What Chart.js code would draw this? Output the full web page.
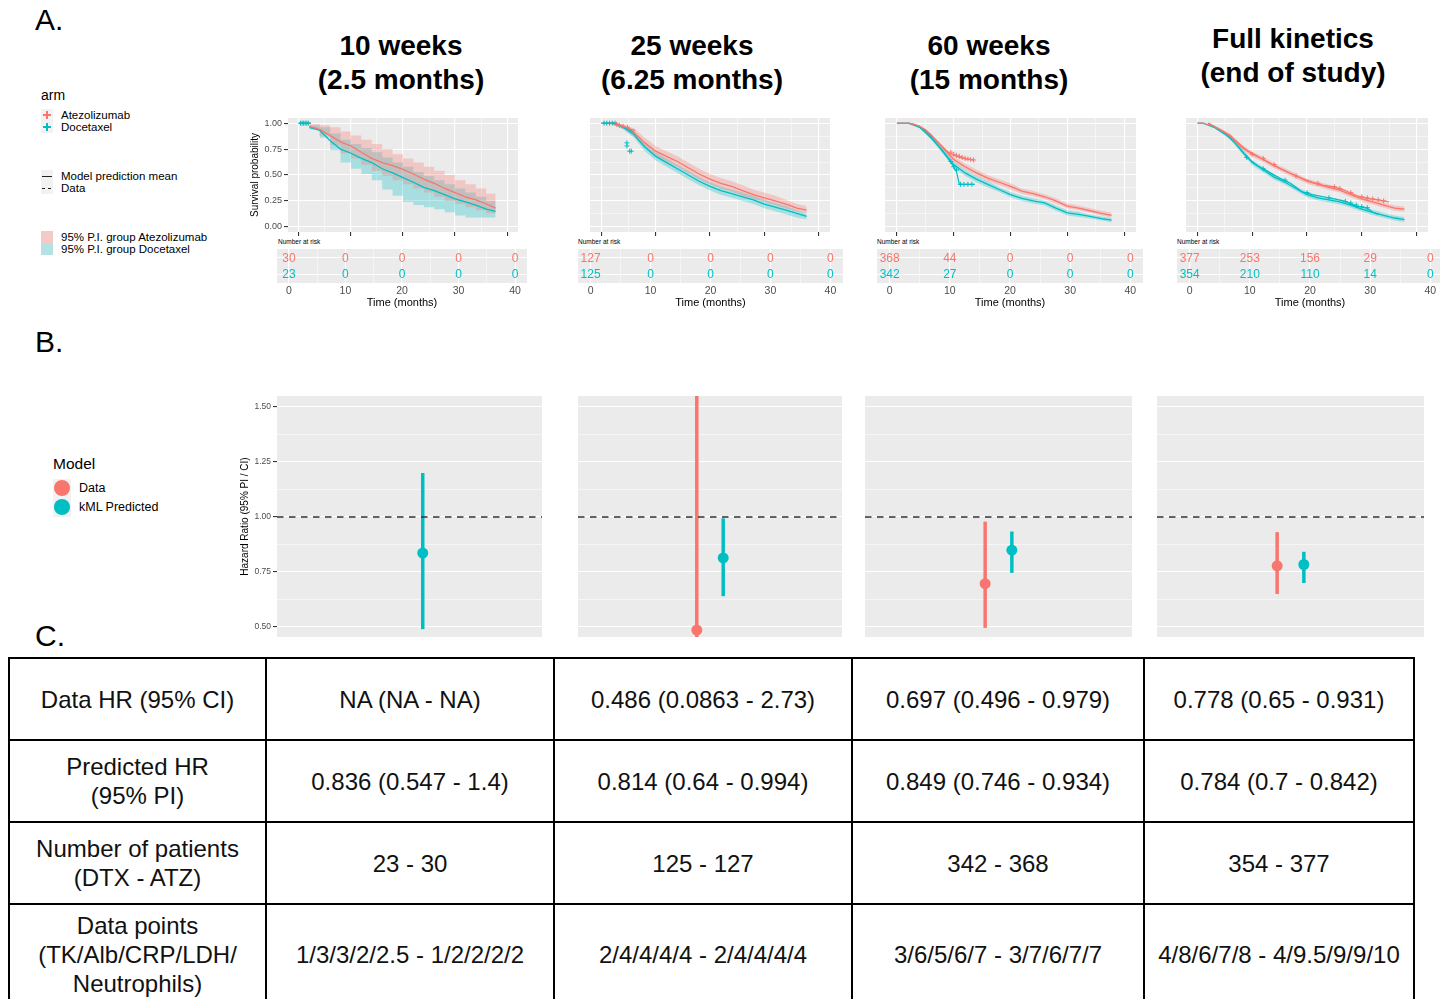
<!DOCTYPE html>
<html>
<head>
<meta charset="utf-8">
<script src="https://cdn.jsdelivr.net/npm/chart.js@4.4.1/dist/chart.umd.min.js"></script>
<style>
body{margin:0;width:1440px;height:999px;overflow:hidden;position:relative;background:#fff;font-family:'Liberation Sans',Arial,Helvetica,sans-serif;color:#000}
.abs{position:absolute;white-space:nowrap}
canvas{position:absolute}
.letter{font-size:30px;line-height:36px}
.title{font-size:28px;font-weight:bold;text-align:center;line-height:34px;width:320px}
.lg{font-size:11.5px;line-height:14px}
.key{position:absolute;width:12px;height:12px;background:#F2F2F2}
.nar{font-size:6.5px;line-height:8px;color:#000}
table{position:absolute;left:8px;top:657px;border-collapse:collapse;table-layout:fixed;font-size:24px;color:#111}
td{border:2.5px solid #000;text-align:center;vertical-align:middle;line-height:29px;padding:0}
</style>
</head>
<body>
<div class="abs letter" style="left:35px;top:2px">A.</div>
<div class="abs letter" style="left:35px;top:324px">B.</div>
<div class="abs letter" style="left:35px;top:618px">C.</div>

<div class="abs title" style="left:241px;top:29px">10 weeks<br>(2.5 months)</div>
<div class="abs title" style="left:532px;top:29px">25 weeks<br>(6.25 months)</div>
<div class="abs title" style="left:829px;top:29px">60 weeks<br>(15 months)</div>
<div class="abs title" style="left:1133px;top:22px">Full kinetics<br>(end of study)</div>

<!-- legend panel A -->
<div class="abs" style="left:41px;top:87px;font-size:14px">arm</div>
<div class="key" style="left:41px;top:109px"><div style="position:absolute;left:2px;top:5px;width:8px;height:1.5px;background:#F8766D"></div><div style="position:absolute;left:5.25px;top:2px;width:1.5px;height:8px;background:#F8766D"></div></div>
<div class="key" style="left:41px;top:121px"><div style="position:absolute;left:2px;top:5px;width:8px;height:1.5px;background:#00BFC4"></div><div style="position:absolute;left:5.25px;top:2px;width:1.5px;height:8px;background:#00BFC4"></div></div>
<div class="abs lg" style="left:61px;top:108px">Atezolizumab</div>
<div class="abs lg" style="left:61px;top:120px">Docetaxel</div>
<div class="key" style="left:41px;top:170px"><div style="position:absolute;left:1px;top:5.5px;width:10px;height:1px;background:#222"></div></div>
<div class="key" style="left:41px;top:182px"><div style="position:absolute;left:1px;top:5.5px;width:3px;height:1px;background:#222"></div><div style="position:absolute;left:7px;top:5.5px;width:3px;height:1px;background:#222"></div></div>
<div class="abs lg" style="left:61px;top:169px">Model prediction mean</div>
<div class="abs lg" style="left:61px;top:181px">Data</div>
<div class="key" style="left:41px;top:231px;background:#F3CAC7"></div>
<div class="key" style="left:41px;top:243px;background:#B6E1E3"></div>
<div class="abs lg" style="left:61px;top:230px">95% P.I. group Atezolizumab</div>
<div class="abs lg" style="left:61px;top:242px">95% P.I. group Docetaxel</div>

<!-- legend panel B -->
<div class="abs" style="left:53px;top:455px;font-size:15.5px">Model</div>
<div class="abs" style="left:53px;top:479px;width:18px;height:38px;background:#F2F2F2"></div>
<div class="abs" style="left:54px;top:480px;width:16px;height:16px;border-radius:8px;background:#F8766D"></div>
<div class="abs" style="left:54px;top:499px;width:16px;height:16px;border-radius:8px;background:#00BFC4"></div>
<div class="abs" style="left:79px;top:481px;font-size:12.5px">Data</div>
<div class="abs" style="left:79px;top:500px;font-size:12.5px">kML Predicted</div>

<div class="abs nar" style="left:278px;top:238px">Number at risk</div>
<div class="abs nar" style="left:578px;top:238px">Number at risk</div>
<div class="abs nar" style="left:877px;top:238px">Number at risk</div>
<div class="abs nar" style="left:1177px;top:238px">Number at risk</div>

<script>
// ---------- DATA ----------
// model prediction grid (months)
const modelTimes = [2, 4, 6, 8, 10, 12, 14, 16, 18, 20, 22, 24, 26, 28, 30, 32, 34, 36, 37.8];

// 10 weeks
const atzMean10 = [0.97, 0.94, 0.88, 0.82, 0.78, 0.72, 0.66, 0.62, 0.59, 0.555, 0.51, 0.46, 0.42, 0.37, 0.33, 0.29, 0.26, 0.22, 0.18];
const atzHi10   = [0.99, 0.98, 0.96, 0.92, 0.88, 0.84, 0.80, 0.75, 0.70, 0.66, 0.62, 0.58, 0.54, 0.50, 0.45, 0.41, 0.37, 0.32, 0.28];
const atzLo10   = [0.95, 0.88, 0.79, 0.71, 0.66, 0.60, 0.54, 0.49, 0.45, 0.41, 0.37, 0.33, 0.29, 0.25, 0.22, 0.19, 0.16, 0.13, 0.10];
const dtxMean10 = [0.96, 0.93, 0.83, 0.75, 0.71, 0.66, 0.62, 0.56, 0.52, 0.475, 0.43, 0.38, 0.35, 0.31, 0.27, 0.24, 0.21, 0.17, 0.15];
const dtxHi10   = [0.98, 0.96, 0.90, 0.84, 0.80, 0.76, 0.72, 0.67, 0.62, 0.58, 0.53, 0.49, 0.45, 0.41, 0.37, 0.33, 0.29, 0.25, 0.22];
const dtxLo10   = [0.94, 0.86, 0.74, 0.62, 0.56, 0.51, 0.45, 0.36, 0.30, 0.24, 0.21, 0.19, 0.17, 0.14, 0.11, 0.09, 0.09, 0.09, 0.09];
const obsT10 = [0, 2.3];
const obsAtz10 = [1, 1];
const obsDtx10 = [1, 1];
const censT10 = [0.3, 0.6, 0.9, 1.2, 1.5, 1.8];
const censDtx10 = [1, 1, 1, 1, 1, 1];

// 25 weeks
const atzMean25 = [1.0, 0.97, 0.91, 0.81, 0.73, 0.68, 0.63, 0.57, 0.51, 0.46, 0.42, 0.39, 0.35, 0.31, 0.28, 0.25, 0.22, 0.18, 0.16];
const atzHi25   = [1.0, 0.99, 0.95, 0.86, 0.78, 0.73, 0.68, 0.62, 0.56, 0.51, 0.47, 0.44, 0.40, 0.36, 0.33, 0.30, 0.26, 0.22, 0.20];
const atzLo25   = [0.99, 0.95, 0.87, 0.76, 0.68, 0.63, 0.58, 0.52, 0.46, 0.41, 0.37, 0.34, 0.30, 0.27, 0.24, 0.21, 0.18, 0.15, 0.13];
const dtxMean25 = [1.0, 0.96, 0.89, 0.77, 0.68, 0.62, 0.56, 0.50, 0.44, 0.39, 0.35, 0.32, 0.29, 0.26, 0.22, 0.19, 0.16, 0.13, 0.10];
const dtxHi25   = [1.0, 0.98, 0.92, 0.81, 0.72, 0.66, 0.60, 0.54, 0.48, 0.43, 0.39, 0.36, 0.33, 0.30, 0.26, 0.23, 0.20, 0.16, 0.13];
const dtxLo25   = [0.99, 0.94, 0.86, 0.73, 0.64, 0.58, 0.52, 0.46, 0.40, 0.35, 0.31, 0.28, 0.25, 0.22, 0.18, 0.15, 0.12, 0.09, 0.07];
const obsAtzT25 = [0, 2.5, 3.5, 4.5, 5.5, 6.2];
const obsAtz25  = [1, 1, 0.98, 0.96, 0.94, 0.93];
const obsDtxT25 = [0, 2.5, 3.5, 4.5, 5.5, 6.0];
const obsDtx25  = [1, 1, 0.97, 0.95, 0.93, 0.91];
const censAtzT25 = [2.8, 3.3, 4.0, 4.8];
const censAtz25  = [0.99, 0.98, 0.97, 0.96];
const censDtxT25 = [0.5, 1.0, 1.5, 2.0, 2.5, 4.7, 4.7, 5.2, 5.5];
const censDtx25  = [1, 1, 1, 1, 1, 0.81, 0.78, 0.73, 0.73];

// 60 weeks
const atzMean60 = [1.0, 0.97, 0.88, 0.77, 0.65, 0.58, 0.52, 0.47, 0.43, 0.39, 0.345, 0.32, 0.29, 0.25, 0.20, 0.18, 0.155, 0.13, 0.11];
const atzHi60   = [1.0, 0.98, 0.90, 0.79, 0.68, 0.61, 0.55, 0.50, 0.46, 0.42, 0.37, 0.345, 0.315, 0.275, 0.225, 0.205, 0.18, 0.155, 0.135];
const atzLo60   = [1.0, 0.96, 0.86, 0.75, 0.62, 0.55, 0.49, 0.44, 0.40, 0.36, 0.32, 0.295, 0.265, 0.225, 0.18, 0.16, 0.135, 0.11, 0.09];
const dtxMean60 = [1.0, 0.96, 0.86, 0.74, 0.60, 0.52, 0.46, 0.41, 0.36, 0.31, 0.275, 0.25, 0.23, 0.18, 0.135, 0.12, 0.10, 0.08, 0.065];
const dtxHi60   = [1.0, 0.97, 0.88, 0.77, 0.63, 0.55, 0.49, 0.44, 0.385, 0.335, 0.30, 0.275, 0.255, 0.205, 0.16, 0.145, 0.12, 0.10, 0.085];
const dtxLo60   = [1.0, 0.95, 0.84, 0.71, 0.57, 0.49, 0.43, 0.38, 0.335, 0.285, 0.25, 0.225, 0.205, 0.155, 0.11, 0.095, 0.08, 0.06, 0.045];
const obsAtzT60 = [0, 2, 3, 4, 5, 6, 7, 8, 9, 10, 11, 12, 13.5];
const obsAtz60  = [1, 1, 0.99, 0.97, 0.94, 0.89, 0.83, 0.77, 0.72, 0.69, 0.67, 0.655, 0.645];
const obsDtxT60 = [0, 2, 3, 4, 5, 6, 7, 8, 9, 10, 10.5, 11, 13.7];
const obsDtx60  = [1, 1, 0.99, 0.96, 0.93, 0.87, 0.80, 0.73, 0.66, 0.58, 0.53, 0.41, 0.41];
const censAtzT60 = [9.5, 10, 10.5, 11, 11.5, 12, 12.5, 13, 13.5];
const censAtz60  = [0.72, 0.70, 0.69, 0.68, 0.67, 0.66, 0.655, 0.65, 0.645];
const censDtxT60 = [9.5, 10, 10.5, 11.2, 11.8, 12.5, 13.2];
const censDtx60  = [0.63, 0.58, 0.55, 0.41, 0.41, 0.41, 0.41];

// full kinetics
const atzMeanF = [1.0, 0.94, 0.88, 0.77, 0.70, 0.65, 0.59, 0.54, 0.49, 0.44, 0.41, 0.38, 0.355, 0.31, 0.27, 0.24, 0.21, 0.18, 0.17];
const atzHiF   = [1.0, 0.955, 0.90, 0.795, 0.725, 0.675, 0.615, 0.565, 0.515, 0.465, 0.435, 0.405, 0.38, 0.335, 0.295, 0.265, 0.235, 0.205, 0.195];
const atzLoF   = [1.0, 0.925, 0.86, 0.745, 0.675, 0.625, 0.565, 0.515, 0.465, 0.415, 0.385, 0.355, 0.33, 0.285, 0.245, 0.215, 0.185, 0.155, 0.145];
const dtxMeanF = [1.0, 0.93, 0.86, 0.74, 0.62, 0.55, 0.48, 0.43, 0.37, 0.31, 0.28, 0.26, 0.24, 0.21, 0.17, 0.14, 0.11, 0.085, 0.07];
const dtxHiF   = [1.0, 0.945, 0.88, 0.765, 0.645, 0.575, 0.505, 0.455, 0.395, 0.335, 0.305, 0.285, 0.265, 0.235, 0.195, 0.165, 0.135, 0.11, 0.095];
const dtxLoF   = [1.0, 0.915, 0.84, 0.715, 0.595, 0.525, 0.455, 0.405, 0.345, 0.285, 0.255, 0.235, 0.215, 0.185, 0.145, 0.115, 0.085, 0.06, 0.045];
const obsAtzTF = [0, 1, 3, 5, 7, 9, 11, 13, 15, 17, 19, 21, 23, 25, 27, 29, 31, 33, 35];
const obsAtzF  = [1, 1, 0.97, 0.91, 0.83, 0.74, 0.68, 0.62, 0.565, 0.515, 0.47, 0.43, 0.40, 0.385, 0.35, 0.30, 0.275, 0.26, 0.24];
const obsDtxTF = [0, 1, 3, 5, 7, 9, 11, 13, 15, 17, 19, 21, 23, 25, 27, 29, 31, 32, 33];
const obsDtxF  = [1, 1, 0.96, 0.90, 0.80, 0.67, 0.59, 0.53, 0.47, 0.42, 0.34, 0.31, 0.29, 0.27, 0.245, 0.20, 0.18, 0.14, 0.12];
const censAtzTF = [10, 12, 14, 18, 22, 25, 26, 28, 30, 31, 32, 33, 34];
const censAtzF  = [0.70, 0.66, 0.60, 0.49, 0.42, 0.385, 0.37, 0.33, 0.29, 0.28, 0.27, 0.26, 0.25];
const censDtxTF = [9, 12, 16, 20, 24, 27, 28, 29, 30, 31];
const censDtxF  = [0.67, 0.56, 0.45, 0.33, 0.28, 0.245, 0.23, 0.21, 0.195, 0.185];

// number at risk
const riskTimes = [0, 10, 20, 30, 40];
const riskAtz10 = [30, 0, 0, 0, 0],    riskDtx10 = [23, 0, 0, 0, 0];
const riskAtz25 = [127, 0, 0, 0, 0],   riskDtx25 = [125, 0, 0, 0, 0];
const riskAtz60 = [368, 44, 0, 0, 0],  riskDtx60 = [342, 27, 0, 0, 0];
const riskAtzF  = [377, 253, 156, 29, 0], riskDtxF = [354, 210, 110, 14, 0];

// hazard ratios (panel B)
const hrDataEst = [null, 0.486, 0.697, 0.778];
const hrDataLo  = [null, 0.0863, 0.496, 0.65];
const hrDataHi  = [null, 2.73, 0.979, 0.931];
const hrPredEst = [0.836, 0.814, 0.849, 0.784];
const hrPredLo  = [0.49, 0.64, 0.746, 0.70];
const hrPredHi  = [1.20, 0.994, 0.934, 0.842];

// ticks
const kmXTicks = [0, 5, 10, 15, 20, 25, 30, 35, 40];
const kmYTicks = [0, 0.125, 0.25, 0.375, 0.5, 0.625, 0.75, 0.875, 1];
const hrYTicks = [0.5, 0.625, 0.75, 0.875, 1, 1.125, 1.25, 1.375, 1.5];

// table (panel C)
const tableHeads = ['Data HR (95% CI)', 'Predicted HR\n(95% PI)', 'Number of patients\n(DTX - ATZ)', 'Data points\n(TK/Alb/CRP/LDH/\nNeutrophils)'];
const tableDataHR = ['NA (NA - NA)', '0.486 (0.0863 - 2.73)', '0.697 (0.496 - 0.979)', '0.778 (0.65 - 0.931)'];
const tablePredHR = ['0.836 (0.547 - 1.4)', '0.814 (0.64 - 0.994)', '0.849 (0.746 - 0.934)', '0.784 (0.7 - 0.842)'];
const tablePatients = ['23 - 30', '125 - 127', '342 - 368', '354 - 377'];
const tablePoints = ['1/3/3/2/2.5 - 1/2/2/2/2', '2/4/4/4/4 - 2/4/4/4/4', '3/6/5/6/7 - 3/7/6/7/7', '4/8/6/7/8 - 4/9.5/9/9/10'];

// ---------- DRAWING ----------
const FONT = "'Liberation Sans', Arial, Helvetica, sans-serif";
const RED = '#F8766D', TEAL = '#00BFC4';
const RED_FILL = 'rgba(248,118,109,0.30)', TEAL_FILL = 'rgba(0,191,196,0.28)';

const isMajorX = v => Math.abs(v % 10) < 1e-9;
const isMajorY = v => Math.abs(v * 4 - Math.round(v * 4)) < 1e-9;

// grey ggplot panel
const panelBg = {
    id: 'panelBg',
    beforeDraw(chart) {
        const a = chart.chartArea, c = chart.ctx;
        c.save();
        c.fillStyle = '#EBEBEB';
        c.fillRect(a.left, a.top, a.right - a.left, a.bottom - a.top);
        c.restore();
    }
};

function fixSize(size) {
    return function (scale) {
        if (scale.isHorizontal()) scale.height = size; else scale.width = size;
        scale.paddingTop = 0; scale.paddingBottom = 0;
        scale.paddingLeft = 0; scale.paddingRight = 0;
    };
}

function addCanvas(left, top, w, h) {
    const c = document.createElement('canvas');
    c.width = w; c.height = h;
    c.style.left = left + 'px'; c.style.top = top + 'px';
    c.style.width = w + 'px'; c.style.height = h + 'px';
    document.body.appendChild(c);
    return c;
}

function pts(xs, ys) {
    return xs.map((x, i) => ({ x: x, y: ys[i] }));
}

function lineSet(xs, ys, color, width) {
    return { data: pts(xs, ys), borderColor: color, borderWidth: width, pointRadius: 0, fill: false, tension: 0 };
}

function censSet(xs, ys, color) {
    return { data: pts(xs, ys), showLine: false, pointStyle: 'cross', pointRadius: 2.5, borderColor: color, borderWidth: 1, backgroundColor: color };
}

function baseOptions() {
    return {
        responsive: false,
        animation: false,
        events: [],
        layout: { padding: 0, autoPadding: false },
        plugins: { legend: { display: false }, tooltip: { enabled: false } }
    };
}

// panel A : survival curves
const kmPanels = [
    { left: 288, width: 230, stepped: true,
      atz: [atzMean10, atzHi10, atzLo10], dtx: [dtxMean10, dtxHi10, dtxLo10],
      obs: [[obsT10, obsAtz10, RED], [obsT10, obsDtx10, TEAL]],
      cens: [[censT10, censDtx10, TEAL]] },
    { left: 590, width: 240, stepped: false,
      atz: [atzMean25, atzHi25, atzLo25], dtx: [dtxMean25, dtxHi25, dtxLo25],
      obs: [[obsAtzT25, obsAtz25, RED], [obsDtxT25, obsDtx25, TEAL]],
      cens: [[censAtzT25, censAtz25, RED], [censDtxT25, censDtx25, TEAL]] },
    { left: 885, width: 251, stepped: false,
      atz: [atzMean60, atzHi60, atzLo60], dtx: [dtxMean60, dtxHi60, dtxLo60],
      obs: [[obsAtzT60, obsAtz60, RED], [obsDtxT60, obsDtx60, TEAL]],
      cens: [[censAtzT60, censAtz60, RED], [censDtxT60, censDtx60, TEAL]] },
    { left: 1186, width: 242, stepped: false,
      atz: [atzMeanF, atzHiF, atzLoF], dtx: [dtxMeanF, dtxHiF, dtxLoF],
      obs: [[obsAtzTF, obsAtzF, RED], [obsDtxTF, obsDtxF, TEAL]],
      cens: [[censAtzTF, censAtzF, RED], [censDtxTF, censDtxF, TEAL]] }
];

kmPanels.forEach(function (p, k) {
    const axisW = k === 0 ? 44 : 0;
    const cv = addCanvas(p.left - axisW, 118, p.width + axisW, 120);
    const ds = [];
    p.cens.forEach(c => ds.push(censSet(c[0], c[1], c[2])));
    p.obs.forEach(o => ds.push(lineSet(o[0], o[1], o[2], 1.2)));
    ds.push(lineSet(modelTimes, p.atz[0], RED, 1.3));
    ds.push(lineSet(modelTimes, p.dtx[0], TEAL, 1.3));
    // bands: upper filled down to lower
    [[p.atz, RED_FILL], [p.dtx, TEAL_FILL]].forEach(function (b) {
        ds.push({ data: pts(modelTimes, b[0][1]), borderWidth: 0, pointRadius: 0, fill: '+1', backgroundColor: b[1], stepped: p.stepped });
        ds.push({ data: pts(modelTimes, b[0][2]), borderWidth: 0, pointRadius: 0, fill: false, stepped: p.stepped });
    });

    const opts = baseOptions();
    opts.scales = {
        x: {
            type: 'linear', min: -2.1, max: 42.1,
            afterBuildTicks: s => { s.ticks = kmXTicks.map(v => ({ value: v })); },
            ticks: { display: false },
            grid: { color: '#fff', lineWidth: c => isMajorX(c.tick.value) ? 1.1 : 0.5,
                    tickLength: 4, tickColor: c => isMajorX(c.tick.value) ? '#333' : 'rgba(0,0,0,0)' },
            border: { display: false },
            afterFit: fixSize(6)
        },
        y: {
            type: 'linear', min: -0.05, max: 1.05,
            afterBuildTicks: s => { s.ticks = kmYTicks.map(v => ({ value: v })); },
            ticks: { display: k === 0, callback: v => isMajorY(v) ? v.toFixed(2) : '',
                     color: '#4D4D4D', font: { family: FONT, size: 9 }, padding: 2 },
            grid: { color: '#fff', lineWidth: c => isMajorY(c.tick.value) ? 1.1 : 0.5,
                    drawTicks: k === 0, tickLength: 4,
                    tickColor: c => isMajorY(c.tick.value) ? '#333' : 'rgba(0,0,0,0)' },
            border: { display: false },
            title: { display: k === 0, text: 'Survival probability', color: '#000',
                     font: { family: FONT, size: 10 }, padding: { top: 5, bottom: 0 } },
            afterFit: fixSize(axisW)
        }
    };
    new Chart(cv, { type: 'line', data: { datasets: ds }, options: opts, plugins: [panelBg] });
});

// panel A : number at risk tables
const riskPanels = [
    { left: 277, width: 250, atz: riskAtz10, dtx: riskDtx10 },
    { left: 578, width: 265, atz: riskAtz25, dtx: riskDtx25 },
    { left: 877, width: 266, atz: riskAtz60, dtx: riskDtx60 },
    { left: 1177, width: 266, atz: riskAtzF, dtx: riskDtxF }
];

riskPanels.forEach(function (p) {
    const cv = addCanvas(p.left, 249, p.width, 62);
    const riskText = {
        id: 'riskText',
        afterDatasetsDraw(chart) {
            const c = chart.ctx, xs = chart.scales.x, ys = chart.scales.y;
            c.save();
            c.font = '12px ' + FONT;
            c.textAlign = 'center';
            c.textBaseline = 'middle';
            [[p.atz, RED, 1], [p.dtx, TEAL, 0]].forEach(function (r) {
                c.fillStyle = r[1];
                riskTimes.forEach((t, i) => c.fillText(String(r[0][i]), xs.getPixelForValue(t), ys.getPixelForValue(r[2]) + 0.5));
            });
            c.restore();
        }
    };
    const opts = baseOptions();
    opts.scales = {
        x: {
            type: 'linear', min: -2.1, max: 42.1,
            afterBuildTicks: s => { s.ticks = kmXTicks.map(v => ({ value: v })); },
            ticks: { callback: v => isMajorX(v) ? String(v) : '', autoSkip: false, maxRotation: 0,
                     color: '#4D4D4D', font: { family: FONT, size: 10.5 }, padding: 2 },
            grid: { color: '#fff', lineWidth: c => isMajorX(c.tick.value) ? 1.1 : 0.5, drawTicks: false },
            border: { display: false },
            title: { display: true, text: 'Time (months)', color: '#000',
                     font: { family: FONT, size: 11 }, padding: { top: 0, bottom: 1 } },
            afterFit: fixSize(28)
        },
        y: {
            type: 'linear', min: -0.55, max: 1.55,
            afterBuildTicks: s => { s.ticks = [{ value: 0 }, { value: 1 }]; },
            ticks: { display: false },
            grid: { color: '#fff', lineWidth: 1.1, drawTicks: false },
            border: { display: false },
            afterFit: fixSize(0)
        }
    };
    new Chart(cv, { type: 'line', data: { datasets: [] }, options: opts, plugins: [panelBg, riskText] });
});

// panel B : hazard ratios
const hrPanels = [
    { left: 277, width: 265 },
    { left: 578, width: 264 },
    { left: 865, width: 267 },
    { left: 1157, width: 267 }
];
const dodgeX = [0.45, 0.55];

hrPanels.forEach(function (p, k) {
    const axisW = k === 0 ? 41 : 0;
    const cv = addCanvas(p.left - axisW, 396, p.width + axisW, 241);
    const ds = [];
    const groups = [];
    if (hrDataEst[k] !== null) groups.push([dodgeX[0], hrDataEst[k], hrDataLo[k], hrDataHi[k], RED]);
    groups.push([dodgeX[1], hrPredEst[k], hrPredLo[k], hrPredHi[k], TEAL]);
    groups.forEach(g => ds.push({ data: [{ x: g[0], y: g[1] }], showLine: false, pointRadius: 5.5,
                                 pointBackgroundColor: g[4], pointBorderWidth: 0 }));
    ds.push({ data: [{ x: 0, y: 1 }, { x: 1, y: 1 }], borderColor: '#333', borderWidth: 1.6,
              borderDash: [6.5, 5.5], pointRadius: 0, fill: false });
    groups.forEach(g => ds.push({ data: [{ x: g[0], y: g[2] }, { x: g[0], y: g[3] }], borderColor: g[4],
                                 borderWidth: 3.5, pointRadius: 0, fill: false }));

    const opts = baseOptions();
    opts.scales = {
        x: { type: 'linear', min: 0, max: 1, display: false },
        y: {
            type: 'linear', min: 0.4545, max: 1.55,
            afterBuildTicks: s => { s.ticks = hrYTicks.map(v => ({ value: v })); },
            ticks: { display: k === 0, callback: v => isMajorY(v) ? v.toFixed(2) : '',
                     color: '#4D4D4D', font: { family: FONT, size: 8.5 }, padding: 2 },
            grid: { color: '#fff', lineWidth: c => isMajorY(c.tick.value) ? 1.1 : 0.55,
                    drawTicks: k === 0, tickLength: 4,
                    tickColor: c => isMajorY(c.tick.value) ? '#333' : 'rgba(0,0,0,0)' },
            border: { display: false },
            title: { display: k === 0, text: 'Hazard Ratio (95% PI / CI)', color: '#000',
                     font: { family: FONT, size: 10 }, padding: { top: 3, bottom: 0 } },
            afterFit: fixSize(axisW)
        }
    };
    new Chart(cv, { type: 'line', data: { datasets: ds }, options: opts, plugins: [panelBg] });
});

// panel C : table
(function () {
    const colW = [257, 288, 298, 292, 270];
    const rowH = [82, 82, 82, 100];
    const rows = [tableDataHR, tablePredHR, tablePatients, tablePoints];
    const t = document.createElement('table');
    const cg = document.createElement('colgroup');
    colW.forEach(w => { const c = document.createElement('col'); c.style.width = w + 'px'; cg.appendChild(c); });
    t.appendChild(cg);
    t.style.width = colW.reduce((a, b) => a + b, 0) + 'px';
    rows.forEach(function (r, i) {
        const tr = document.createElement('tr');
        tr.style.height = rowH[i] + 'px';
        [tableHeads[i]].concat(r).forEach(function (txt) {
            const td = document.createElement('td');
            txt.split('\n').forEach((line, j) => {
                if (j > 0) td.appendChild(document.createElement('br'));
                td.appendChild(document.createTextNode(line));
            });
            tr.appendChild(td);
        });
        t.appendChild(tr);
    });
    document.body.appendChild(t);
})();
</script>
</body>
</html>
